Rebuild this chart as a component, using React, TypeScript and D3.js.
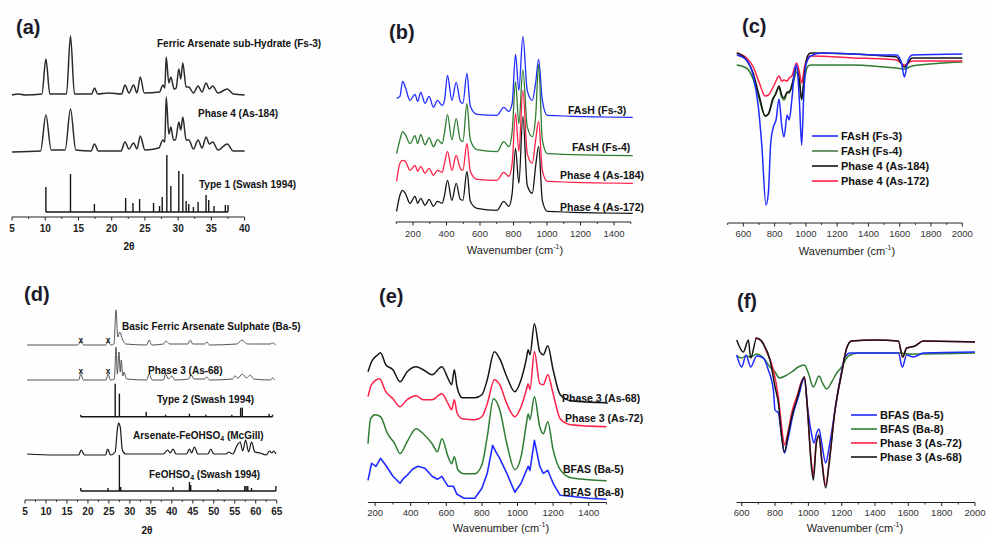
import React from "react";
import * as d3 from "d3";

type Pt = [number, number];

// ================= (a) XRD =================
const aTickValues = [5, 10, 15, 20, 25, 30, 35, 40];
const aNames = ["Ferric Arsenate sub-Hydrate (Fs-3)", "Phase 4 (As-184)", "Type 1 (Swash 1994)"];
const aFs3: Pt[] = [
  [5, 0], [6, 1], [7, 0], [9.5, 1], [10.1, 36], [10.7, 1], [13.2, 1], [13.8, 59], [14.4, 1], [17, 1], [17.4, 7], [17.9, 1],
  [19.5, 2], [21.5, 1], [22, 10], [22.6, 2], [23.3, 10], [23.8, 2], [24.3, 18], [24.9, 2], [27.2, 3], [27.7, 10], [28.0, 7],
  [28.2, 38], [28.6, 12], [28.9, 18], [29.4, 6], [29.7, 7], [30.1, 26], [30.4, 16], [30.7, 32], [31.2, 8], [31.6, 8],
  [32.3, 2], [33, 9], [33.6, 3], [34.2, 12], [34.7, 6], [35.2, 9], [36, 2], [37.4, 6], [38.3, 1], [40, 0],
];
const aAs184: Pt[] = [
  [5, 0], [9.3, 1], [10.1, 37], [10.9, 2], [13, 2], [13.8, 43], [14.6, 2], [16.9, 1], [17.4, 8], [18, 1], [19.5, 1],
  [21.4, 1], [22, 10], [22.6, 3], [23.3, 9], [23.8, 3], [24.3, 16], [25, 2], [27.1, 4], [27.7, 12], [28, 10], [28.2, 55],
  [28.6, 18], [28.9, 25], [29.3, 12], [29.6, 12], [30.1, 30], [30.4, 22], [30.7, 35], [31.2, 12], [31.6, 12], [32.3, 3],
  [33, 12], [33.6, 4], [34.2, 15], [34.7, 8], [35.2, 10], [36, 2], [37.4, 8], [38.3, 1], [40, 1],
];
const aType1Sticks: Pt[] = [
  [10.1, 25], [13.8, 38], [17.4, 8], [22.1, 14], [23.2, 9], [24.2, 13], [26.3, 9], [27.2, 6], [27.6, 15], [28.3, 57],
  [28.9, 26], [30.1, 41], [30.7, 38], [31.2, 11], [31.6, 8], [32.3, 5], [33.0, 10], [34.2, 17], [34.6, 12], [35.4, 6],
  [37.1, 7], [37.5, 7],
];

// ================= (b) Raman =================
const bTickValues = [200, 400, 600, 800, 1000, 1200, 1400];
const bNames = ["FAsH (Fs-3)", "FAsH (Fs-4)", "Phase 4 (As-184)", "Phase 4 (As-172)"];
const bFs3: Pt[] = [
  [102, 19], [122, 21], [138, 36], [154, 30], [182, 17], [212, 23], [228, 16], [246, 25], [272, 14], [296, 21], [322, 10],
  [346, 17], [374, 12], [388, 17], [406, 42], [432, 17], [458, 35], [482, 16], [498, 14], [522, 44], [542, 11], [582, 3],
  [702, 2], [742, 10], [772, 6], [792, 14], [812, 63], [832, 27], [856, 81], [882, 27], [912, 17], [932, 34], [950, 58],
  [972, 17], [1002, 2], [1512, 0],
];
const bFs4: Pt[] = [
  [102, 2], [122, 16], [138, 24], [154, 21], [182, 12], [212, 20], [228, 12], [246, 21], [272, 11], [296, 18], [322, 9],
  [346, 16], [374, 12], [388, 23], [406, 41], [432, 16], [458, 37], [482, 16], [498, 14], [522, 52], [542, 16], [582, 6],
  [702, 4], [742, 14], [772, 9], [792, 24], [812, 74], [832, 32], [856, 86], [882, 29], [912, 19], [932, 39], [950, 91],
  [972, 16], [1002, 2], [1512, 0],
];
const bAs184: Pt[] = [
  [102, 2], [122, 20], [138, 23], [154, 22], [182, 13], [212, 18], [228, 12], [246, 17], [272, 10], [296, 15], [322, 8],
  [346, 13], [374, 11], [388, 20], [406, 32], [432, 13], [458, 28], [482, 15], [498, 13], [522, 40], [542, 12], [582, 4],
  [702, 3], [742, 11], [772, 7], [792, 20], [812, 70], [832, 32], [856, 93], [882, 30], [912, 20], [932, 43], [950, 62],
  [972, 13], [1002, 2], [1512, 0],
];
const bAs172: Pt[] = [
  [102, 2], [122, 18], [138, 23], [154, 20], [182, 10], [212, 17], [228, 10], [246, 15], [272, 8], [296, 14], [322, 7],
  [346, 12], [374, 10], [388, 18], [406, 33], [432, 13], [458, 30], [482, 14], [498, 13], [522, 42], [542, 12], [582, 5],
  [702, 3], [742, 12], [772, 7], [792, 20], [812, 65], [832, 30], [856, 97], [882, 28], [912, 20], [932, 47], [950, 67],
  [972, 13], [1002, 2], [1512, 0],
];

// ================= (c) IR =================
const cTickValues = [600, 800, 1000, 1200, 1400, 1600, 1800, 2000];
const cNames = ["FAsH (Fs-3)", "FAsH (Fs-4)", "Phase 4 (As-184)", "Phase 4 (As-172)"];
const cFs3: Pt[] = [
  [558, 165], [620, 160], [665, 143], [696, 113], [717, 77], [745, 15], [760, 27], [775, 77], [792, 93], [809, 100],
  [828, 121], [845, 95], [860, 83], [880, 105], [893, 100], [910, 120], [930, 152], [941, 155], [958, 120], [973, 75],
  [985, 120], [1000, 155], [1030, 164], [1100, 167], [1300, 166], [1500, 165], [1580, 165], [1610, 158], [1630, 143],
  [1650, 158], [1680, 165], [2000, 166],
];
const cFs4: Pt[] = [
  [558, 155], [620, 152], [660, 142], [700, 122], [740, 104], [760, 106], [790, 120], [828, 132], [845, 123], [860, 120],
  [880, 127], [910, 132], [941, 148], [958, 138], [973, 120], [990, 140], [1010, 153], [1030, 155], [1300, 155],
  [1500, 153], [1580, 152], [1630, 151], [1680, 154], [2000, 158],
];
const cAs184: Pt[] = [
  [558, 167], [620, 160], [660, 148], [700, 125], [740, 104], [760, 106], [790, 122], [805, 125], [828, 134], [845, 125],
  [860, 122], [880, 128], [893, 127], [910, 135], [941, 152], [958, 140], [973, 121], [990, 145], [1010, 164],
  [1030, 167], [1300, 166], [1500, 164], [1580, 163], [1630, 153], [1680, 162], [2000, 162],
];
const cAs172: Pt[] = [
  [558, 167], [620, 162], [660, 154], [700, 138], [740, 124], [760, 125], [800, 136], [828, 144], [845, 139], [860, 140],
  [880, 139], [893, 142], [910, 144], [941, 157], [958, 148], [973, 137], [990, 152], [1010, 162], [1030, 164],
  [1300, 162], [1500, 161], [1580, 160], [1630, 155], [1680, 159], [2000, 159],
];

// ================= (d) XRD =================
const dTickValues = [5, 10, 15, 20, 25, 30, 35, 40, 45, 50, 55, 60, 65];
const dImpurityPeaks = [18.3, 24.8];
const dBa5: Pt[] = [
  [5.5, 0], [17.5, 0], [18.3, 3], [19, 0], [24.2, 0], [24.8, 3], [25.5, 0], [26.2, 1], [26.7, 35], [27.1, 8], [27.6, 13],
  [28.2, 6], [29, 1], [34, 0], [34.6, 5], [35.2, 0], [38, 1], [38.6, 4], [39.5, 1], [43.8, 1], [44.4, 5], [45, 1],
  [47.8, 1], [48.3, 3], [49, 0], [55.5, 1], [56.7, 5], [58, 1], [60, 1], [63.5, 1], [64, 2], [64.8, 0],
];
const dAs68: Pt[] = [
  [5.5, 0], [17.8, 0], [18.3, 6], [18.9, 0], [24.3, 0], [24.8, 6], [25.4, 0], [26.3, 1], [26.7, 33], [27.0, 6], [27.4, 28],
  [27.7, 8], [27.95, 20], [28.3, 4], [28.6, 8], [29.2, 1], [34, 0], [34.6, 6], [35.3, 0], [38, 0], [38.5, 6], [39.2, 1],
  [40, 4], [40.7, 0], [44, 1], [44.6, 5], [45.3, 1], [47.8, 1], [48.3, 3], [49, 0], [54.5, 1], [55, 4], [55.8, 2],
  [56.8, 6], [57.8, 2], [58.7, 5], [59.5, 1], [63.5, 0], [64, 2], [64.6, 0],
];
const dType2Sticks: Pt[] = [
  [18.3, 2], [26.5, 33], [27.5, 23], [33.9, 5], [38.5, 2], [44.2, 3], [48.1, 2], [54.3, 2], [56.4, 9], [56.8, 9],
  [63.2, 3], [64, 2],
];
const dMcGill: Pt[] = [
  [5.5, 1], [12, 0], [17.8, 0], [18.4, 5], [19.2, 0], [24.2, 0], [24.7, 6], [25.4, 0], [26.5, 3], [27.0, 25], [27.3, 32],
  [27.7, 28], [28.2, 5], [29, 1], [38, 1], [39, 5], [39.6, 2], [40.3, 6], [41, 1], [43.5, 1], [44.2, 6], [44.7, 2],
  [45.4, 8], [46.2, 1], [48.6, 1], [49.3, 6], [50, 1], [53, 1], [53.5, 3], [54.5, 1], [55.6, 10], [56.3, 13], [56.9, 4],
  [57.6, 15], [58.3, 3], [59, 13], [59.8, 3], [61, 2], [62.5, 0], [63.3, 4], [63.8, 2], [64.3, 4], [64.8, 1],
];
const dFeOHSO4Sticks: Pt[] = [
  [18.3, 3], [24.8, 3], [27.5, 36], [27.8, 4], [40.3, 4], [44.2, 9], [44.5, 6], [51, 2], [57.4, 5], [57.7, 5], [58.1, 5],
  [59, 3], [64.8, 5],
];

// ================= (e) Raman =================
const eTickValues = [200, 400, 600, 800, 1000, 1200, 1400];
const eNames = ["Phase 3 (As-68)", "Phase 3 (As-72)", "BFAS (Ba-5)", "BFAS (Ba-8)"];
const eAs68: Pt[] = [
  [160, 31], [180, 41], [215, 48], [230, 50], [260, 38], [300, 33], [340, 21], [380, 31], [430, 36], [470, 33], [520, 28],
  [575, 36], [610, 24], [630, 18], [645, 33], [660, 16], [690, 5], [760, 5], [800, 8], [830, 23], [870, 51], [900, 44],
  [940, 26], [985, 11], [1020, 23], [1050, 44], [1060, 53], [1070, 48], [1095, 79], [1125, 51], [1145, 48], [1170, 57],
  [1200, 33], [1240, 8], [1300, 2], [1500, 0],
];
const eAs72: Pt[] = [
  [160, 30], [180, 42], [225, 48], [260, 35], [300, 28], [340, 20], [380, 27], [430, 31], [470, 27], [520, 27], [575, 33],
  [610, 23], [630, 17], [645, 27], [660, 14], [690, 8], [760, 7], [800, 10], [830, 23], [870, 47], [900, 42], [940, 23],
  [985, 10], [1020, 20], [1050, 37], [1060, 43], [1070, 37], [1095, 75], [1125, 43], [1145, 42], [1170, 52], [1200, 33],
  [1240, 8], [1300, 2], [1500, 0],
];
const eBa5: Pt[] = [
  [160, 37], [175, 62], [200, 66], [230, 64], [270, 47], [310, 37], [340, 27], [380, 39], [430, 52], [470, 47], [520, 37],
  [550, 29], [575, 42], [610, 24], [630, 17], [645, 24], [665, 11], [700, 7], [760, 7], [800, 16], [830, 44], [865, 82],
  [900, 71], [940, 37], [985, 11], [1020, 24], [1050, 57], [1060, 67], [1070, 61], [1095, 84], [1125, 54], [1145, 47],
  [1170, 59], [1200, 31], [1240, 11], [1300, 3], [1500, 0],
];
const eBa8: Pt[] = [
  [160, 19], [180, 36], [205, 33], [230, 41], [260, 34], [300, 23], [340, 16], [365, 22], [380, 24], [410, 30], [440, 33],
  [480, 31], [520, 23], [550, 20], [575, 23], [610, 13], [640, 13], [660, 5], [700, 1], [760, 1], [800, 11], [830, 26],
  [860, 54], [880, 47], [900, 41], [940, 26], [985, 7], [1020, 16], [1060, 33], [1070, 29], [1095, 59], [1125, 33],
  [1145, 26], [1170, 29], [1200, 16], [1240, 4], [1300, 3], [1400, 1], [1500, 0],
];

// ================= (f) IR =================
const fTickValues = [600, 800, 1000, 1200, 1400, 1600, 1800, 2000];
const fNames = ["BFAS (Ba-5)", "BFAS (Ba-8)", "Phase 3 (As-72)", "Phase 3 (As-68)"];
const fBa5: Pt[] = [
  [570, 165], [600, 153], [626, 165], [654, 153], [690, 164], [730, 162], [760, 150], [790, 130], [800, 110], [820, 107],
  [840, 83], [856, 67], [880, 83], [910, 107], [940, 123], [976, 142], [995, 113], [1015, 90], [1034, 77], [1050, 87],
  [1064, 91], [1080, 77], [1104, 57], [1125, 73], [1160, 110], [1190, 140], [1220, 163], [1250, 167], [1400, 167],
  [1540, 167], [1564, 153], [1590, 165], [1630, 163], [1690, 167], [2000, 168],
];
const fBa8: Pt[] = [
  [570, 164], [600, 162], [626, 164], [654, 163], [690, 166], [730, 162], [770, 153], [800, 148], [826, 142], [860, 144],
  [900, 148], [940, 153], [976, 155], [1000, 147], [1030, 133], [1064, 144], [1085, 137], [1110, 131], [1140, 138],
  [1170, 147], [1200, 153], [1240, 164], [1300, 167], [1560, 167], [1600, 166], [2000, 167],
];
const fAs72: Pt[] = [
  [680, 182], [720, 179], [750, 168], [790, 150], [820, 123], [840, 93], [856, 75], [880, 90], [900, 107], [930, 123],
  [976, 143], [995, 110], [1015, 63], [1030, 45], [1048, 78], [1064, 83], [1080, 62], [1104, 35], [1125, 58], [1160, 110],
  [1200, 147], [1230, 172], [1260, 179], [1400, 180], [1540, 179], [1566, 163], [1590, 172], [1640, 174], [1690, 179],
  [2000, 178],
];
const fAs68: Pt[] = [
  [570, 180], [610, 168], [640, 180], [654, 162], [690, 182], [730, 176], [770, 160], [800, 133], [820, 117], [840, 83],
  [856, 68], [880, 87], [900, 103], [930, 120], [976, 143], [995, 110], [1015, 60], [1030, 40], [1048, 77], [1064, 85],
  [1080, 60], [1104, 32], [1125, 57], [1160, 110], [1200, 147], [1230, 172], [1260, 179], [1400, 180], [1540, 179],
  [1566, 163], [1590, 172], [1640, 174], [1690, 179], [2000, 178],
];

// ================= rendering =================
const FONT = "'Liberation Sans', Arial, Helvetica, sans-serif";
const BLUE = "#1f2bff";
const GREEN = "#2f7d32";
const RED = "#ff1f48";
const BLACK = "#151515";
const GRAY = "#2b2b2b";

type Lin = d3.ScaleLinear<number, number>;

function offsetScale(base: number): Lin {
  return d3.scaleLinear().domain([0, 100]).range([base, base - 100]);
}

function Axis(props: { x: Lin; y: number; ticks: number[]; minorStep: number; bold?: boolean; fontSize: number; labelY: number; color?: string }) {
  const { x, y, ticks, minorStep, bold, fontSize, labelY } = props;
  const color = props.color || "#222";
  const [d0, d1] = x.domain();
  const minors = d3
    .range(Math.ceil(d0 / minorStep) * minorStep, d1 + 1e-6, minorStep)
    .filter((v) => !ticks.some((t) => Math.abs(t - v) < 1e-6));
  const [r0, r1] = x.range();
  return (
    <g>
      <line x1={r0} x2={r1} y1={y} y2={y} stroke="#222" strokeWidth={1.1} />
      {ticks.map((t) => (
        <line key={"M" + t} x1={x(t)} x2={x(t)} y1={y} y2={y + 3.5} stroke="#222" strokeWidth={1} />
      ))}
      {minors.map((t) => (
        <line key={"m" + t} x1={x(t)} x2={x(t)} y1={y} y2={y + 2} stroke="#222" strokeWidth={0.9} />
      ))}
      {ticks.map((t) => (
        <text key={"l" + t} x={x(t)} y={labelY} textAnchor="middle" dominantBaseline="central" fontFamily={FONT}
          fontSize={fontSize} fontWeight={bold ? "bold" : "normal"} fill={color}>
          {t}
        </text>
      ))}
    </g>
  );
}

function Trace(props: { data: Pt[]; x: Lin; y: Lin; color: string; width?: number; linear?: boolean }) {
  const { data, x, y, color } = props;
  const line = d3
    .line<Pt>()
    .x((d) => x(d[0]))
    .y((d) => y(d[1]))
    .curve(props.linear ? d3.curveLinear : d3.curveMonotoneX);
  return <path d={line(data) || ""} fill="none" stroke={color} strokeWidth={props.width || 1.3} strokeLinejoin="round" />;
}

function Sticks(props: { data: Pt[]; x: Lin; y: Lin; color: string }) {
  const { data, x, y, color } = props;
  const first = data[0][0];
  const last = data[data.length - 1][0];
  return (
    <g stroke={color} strokeWidth={1.4}>
      <line x1={x(first)} x2={x(last)} y1={y(0)} y2={y(0)} />
      {data.map(([v, h], i) => (
        <line key={i} x1={x(v)} x2={x(v)} y1={y(0)} y2={y(h)} />
      ))}
    </g>
  );
}

function Label(props: { x: number; y: number; children: React.ReactNode; size?: number; bold?: boolean; anchor?: string; fill?: string }) {
  return (
    <text x={props.x} y={props.y} dominantBaseline="central" fontFamily={FONT} fontSize={props.size || 10}
      fontWeight={props.bold === false ? "normal" : "bold"} textAnchor={props.anchor || "start"} fill={props.fill || "#111"}>
      {props.children}
    </text>
  );
}

function PanelTag(props: { x: number; y: number; text: string }) {
  return (
    <text x={props.x} y={props.y} fontFamily={FONT} fontSize={20} fontWeight="bold" fill="#1a1a2a">
      {props.text}
    </text>
  );
}

function WaveTitle(props: { x: number; y: number }) {
  return (
    <text x={props.x} y={props.y} textAnchor="middle" dominantBaseline="central" fontFamily={FONT} fontSize={11} fill="#222">
      Wavenumber (cm
      <tspan fontSize={7} dy={-4}>-1</tspan>
      <tspan dy={4}>)</tspan>
    </text>
  );
}

function Legend(props: { x: number; y: number; step: number; names: string[]; colors: string[] }) {
  const { x, y, step, names, colors } = props;
  return (
    <g>
      {names.map((n, i) => (
        <g key={n}>
          <line x1={x} x2={x + 26} y1={y + i * step} y2={y + i * step} stroke={colors[i]} strokeWidth={1.6} />
          <Label x={x + 29} y={y + i * step} size={11}>{n}</Label>
        </g>
      ))}
    </g>
  );
}

export default function App() {
  // (a)
  const xa = d3.scaleLinear().domain([5, 40]).range([12, 244.6]);
  const ya = [offsetScale(95), offsetScale(152), offsetScale(212)];
  // (b)
  const xb = d3.scaleLinear().domain([100, 1500]).range([396.25, 630.75]);
  const yb = [offsetScale(117.3), offsetScale(155.7), offsetScale(183.3), offsetScale(213.3)];
  // (c)
  const xc = d3.scaleLinear().domain([500, 2000]).range([727.7, 962.3]);
  const yc = d3.scaleLinear().domain([0, 200]).range([220, 20]);
  // (d)
  const xd = d3.scaleLinear().domain([5, 65]).range([25, 276.7]);
  const yd = [offsetScale(345), offsetScale(380), offsetScale(416.7), offsetScale(455), offsetScale(491)];
  // (e)
  const xe = d3.scaleLinear().domain([160, 1500]).range([368, 606.5]);
  const ye = [offsetScale(402.7), offsetScale(426.7), offsetScale(480.7), offsetScale(499.3)];
  // (f)
  const xf = d3.scaleLinear().domain([570, 2000]).range([736.7, 975]);
  const yf = d3.scaleLinear().domain([0, 200]).range([520, 320]);

  return (
    <svg width={986} height={538} viewBox="0 0 986 538" style={{ position: "absolute", left: 0, top: 0, background: "#fff" }}>
      <rect x={0} y={0} width={986} height={538} fill="#fefefe" />

      {/* ---------- (a) ---------- */}
      <PanelTag x={16} y={34} text="(a)" />
      <Trace data={aFs3} x={xa} y={ya[0]} color={GRAY} width={1.5} />
      <Trace data={aAs184} x={xa} y={ya[1]} color={GRAY} width={1.5} />
      <Sticks data={aType1Sticks} x={xa} y={ya[2]} color={BLACK} />
      <Label x={157} y={43}>{aNames[0]}</Label>
      <Label x={198} y={113}>{aNames[1]}</Label>
      <Label x={199} y={184}>{aNames[2]}</Label>
      <Axis x={xa} y={217} ticks={aTickValues} minorStep={2.5} bold fontSize={10} labelY={228} />
      <Label x={129} y={246} anchor="middle">2θ</Label>

      {/* ---------- (b) ---------- */}
      <PanelTag x={389} y={39} text="(b)" />
      <Trace data={bFs3} x={xb} y={yb[0]} color={BLUE} />
      <Trace data={bFs4} x={xb} y={yb[1]} color={GREEN} />
      <Trace data={bAs184} x={xb} y={yb[2]} color={RED} />
      <Trace data={bAs172} x={xb} y={yb[3]} color={BLACK} />
      <Label x={568} y={110} size={10.5}>{bNames[0]}</Label>
      <Label x={572} y={147} size={10.5}>{bNames[1]}</Label>
      <Label x={560} y={175} size={10.5}>{bNames[2]}</Label>
      <Label x={560} y={207} size={10.5}>{bNames[3]}</Label>
      <Axis x={xb} y={222} ticks={bTickValues} minorStep={100} fontSize={9.5} labelY={233} color="#333" />
      <WaveTitle x={515} y={250} />

      {/* ---------- (c) ---------- */}
      <PanelTag x={742} y={33} text="(c)" />
      <Trace data={cFs4} x={xc} y={yc} color={GREEN} width={1.5} />
      <Trace data={cAs172} x={xc} y={yc} color={RED} width={1.5} />
      <Trace data={cAs184} x={xc} y={yc} color={BLACK} width={1.5} />
      <Trace data={cFs3} x={xc} y={yc} color={BLUE} width={1.5} />
      <Legend x={812} y={136} step={15} names={cNames} colors={[BLUE, "#4a7a4a", BLACK, RED]} />
      <Axis x={xc} y={223} ticks={cTickValues} minorStep={100} fontSize={9.5} labelY={233} color="#333" />
      <WaveTitle x={847} y={251} />

      {/* ---------- (d) ---------- */}
      <PanelTag x={24} y={301} text="(d)" />
      <Trace data={dBa5} x={xd} y={yd[0]} color="#555" width={1} />
      <Trace data={dAs68} x={xd} y={yd[1]} color="#555" width={1} />
      <Sticks data={dType2Sticks} x={xd} y={yd[2]} color={BLACK} />
      <Trace data={dMcGill} x={xd} y={yd[3]} color={BLACK} width={1.2} />
      <Sticks data={dFeOHSO4Sticks} x={xd} y={yd[4]} color={BLACK} />
      {dImpurityPeaks.map((p) => (
        <g key={p}>
          <Label x={xd(p)} y={340} size={8.5} anchor="middle">x</Label>
          <Label x={xd(p)} y={370.5} size={8.5} anchor="middle">x</Label>
        </g>
      ))}
      <Label x={122} y={326}>Basic Ferric Arsenate Sulphate (Ba-5)</Label>
      <Label x={148} y={370}>Phase 3 (As-68)</Label>
      <Label x={157} y={399}>Type 2 (Swash 1994)</Label>
      <Label x={133} y={435}>
        Arsenate-FeOHSO<tspan fontSize={7} dy={3}>4</tspan><tspan dy={-3}> (McGill)</tspan>
      </Label>
      <Label x={149} y={474}>
        FeOHSO<tspan fontSize={7} dy={3}>4</tspan><tspan dy={-3}> (Swash 1994)</tspan>
      </Label>
      <Axis x={xd} y={500} ticks={dTickValues} minorStep={2.5} bold fontSize={10} labelY={511} />
      <Label x={147} y={530} anchor="middle">2θ</Label>

      {/* ---------- (e) ---------- */}
      <PanelTag x={379} y={303} text="(e)" />
      <Trace data={eAs68} x={xe} y={ye[0]} color={BLACK} width={1.5} />
      <Trace data={eAs72} x={xe} y={ye[1]} color={RED} width={1.5} />
      <Trace data={eBa5} x={xe} y={ye[2]} color={GREEN} width={1.5} />
      <Trace data={eBa8} x={xe} y={ye[3]} color={BLUE} width={1.6} linear />
      <Label x={562} y={398} size={10.5}>{eNames[0]}</Label>
      <Label x={565} y={418} size={10.5}>{eNames[1]}</Label>
      <Label x={563} y={469} size={10.5}>{eNames[2]}</Label>
      <Label x={563} y={492} size={10.5}>{eNames[3]}</Label>
      <Axis x={xe} y={502.5} ticks={eTickValues} minorStep={100} fontSize={9.5} labelY={512} color="#333" />
      <WaveTitle x={501} y={528} />

      {/* ---------- (f) ---------- */}
      <PanelTag x={737} y={308} text="(f)" />
      <Trace data={fBa8} x={xf} y={yf} color={GREEN} width={1.5} />
      <Trace data={fBa5} x={xf} y={yf} color={BLUE} width={1.5} />
      <Trace data={fAs72} x={xf} y={yf} color={RED} width={1.5} />
      <Trace data={fAs68} x={xf} y={yf} color={BLACK} width={1.5} />
      <Legend x={851} y={415} step={14} names={fNames} colors={[BLUE, GREEN, RED, BLACK]} />
      <Axis x={xf} y={502.5} ticks={fTickValues} minorStep={100} fontSize={9.5} labelY={512} color="#333" />
      <WaveTitle x={855} y={528} />
    </svg>
  );
}
